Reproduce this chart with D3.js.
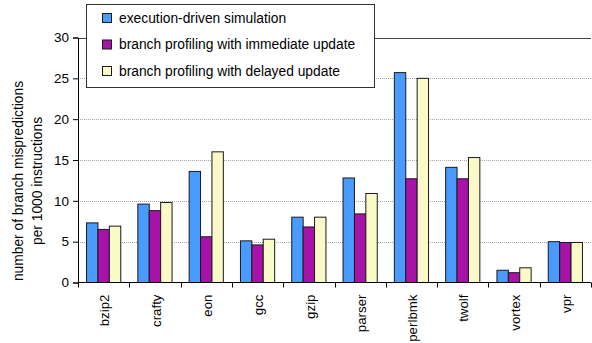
<!DOCTYPE html>
<html>
<head>
<meta charset="utf-8">
<script src="https://cdn.jsdelivr.net/npm/d3@7"></script>
<style>
  body { margin: 0; background: #fff; }
  svg { display: block; font-family: Arial, "Liberation Sans", sans-serif; }
</style>
</head>
<body>
<svg id="chart" width="592" height="343"></svg>
<script>
// Benchmarks on the x axis
const categories = ["bzip2", "crafty", "eon", "gcc", "gzip", "parser", "perlbmk", "twolf", "vortex", "vpr"];

// Branch mispredictions per 1000 instructions, one array per method
const executionDriven = [7.3, 9.6, 13.6, 5.1, 8.0, 12.8, 25.7, 14.1, 1.5, 5.0];
const immediateUpdate = [6.5, 8.8, 5.6, 4.6, 6.8, 8.4, 12.7, 12.7, 1.2, 4.9];
const delayedUpdate   = [6.9, 9.8, 16.0, 5.3, 8.0, 10.9, 25.0, 15.3, 1.8, 4.9];

const seriesNames = [
  "execution-driven simulation",
  "branch profiling with immediate update",
  "branch profiling with delayed update"
];
const seriesColors = ["#4a9bff", "#a912a9", "#fafac8"];
const yTicks = [0, 5, 10, 15, 20, 25, 30];

const seriesValues = [executionDriven, immediateUpdate, delayedUpdate];
const rows = categories.map((c, i) => ({
  name: c,
  values: seriesValues.map((arr, s) => ({ s, v: arr[i] }))
}));

const svg = d3.select("#chart");
const plotLeft = 78, plotRight = 591, plotTop = 37.5, plotBottom = 282.5;

const x0 = d3.scaleBand().domain(categories).range([plotLeft, plotRight]).padding(0);
const x1 = d3.scaleBand().domain(d3.range(seriesNames.length))
  .range([0, x0.bandwidth()]).paddingInner(0).paddingOuter(0.75);
const y = d3.scaleLinear().domain([0, 30]).range([plotBottom, plotTop]);

// horizontal gridlines
svg.append("g").selectAll("line")
  .data(yTicks.filter(t => t > 0 && t < 30))
  .join("line")
  .attr("x1", plotLeft).attr("x2", plotRight)
  .attr("y1", d => Math.round(y(d)) + 0.5).attr("y2", d => Math.round(y(d)) + 0.5)
  .attr("stroke", "#a8a8a8")
  .attr("stroke-dasharray", "1,1");

// top boundary of the plot area
svg.append("line")
  .attr("x1", plotLeft).attr("x2", plotRight)
  .attr("y1", Math.round(y(30)) + 0.5).attr("y2", Math.round(y(30)) + 0.5)
  .attr("stroke", "#444");

// bars
const groups = svg.append("g").selectAll("g")
  .data(rows)
  .join("g")
  .attr("transform", d => `translate(${x0(d.name)},0)`);

groups.selectAll("rect")
  .data(d => d.values)
  .join("rect")
  .attr("x", d => x1(d.s))
  .attr("y", d => y(d.v))
  .attr("width", x1.bandwidth())
  .attr("height", d => y(0) - y(d.v))
  .attr("fill", d => seriesColors[d.s])
  .attr("stroke", "#1a1a1a")
  .attr("stroke-width", 1);

// y axis
const yAxis = d3.axisLeft(y).tickValues(yTicks).tickSize(5).tickPadding(4);
const gy = svg.append("g")
  .attr("transform", `translate(${plotLeft},0)`)
  .call(yAxis);
gy.select(".domain").attr("stroke", "#000");
gy.selectAll(".tick line").attr("stroke", "#000");
gy.selectAll(".tick text").attr("font-size", 13.5).attr("fill", "#000")
  .attr("font-family", "Arial, 'Liberation Sans', sans-serif");

// x axis: baseline with ticks between benchmark groups
const gx = svg.append("g");
gx.append("line")
  .attr("x1", plotLeft).attr("x2", plotRight)
  .attr("y1", plotBottom).attr("y2", plotBottom)
  .attr("stroke", "#000");
gx.selectAll("line.sep")
  .data(categories.map(c => x0(c)).concat([plotRight]))
  .join("line")
  .attr("class", "sep")
  .attr("x1", d => Math.round(d) + 0.5).attr("x2", d => Math.round(d) + 0.5)
  .attr("y1", plotBottom).attr("y2", plotBottom + 5)
  .attr("stroke", "#000");

gx.selectAll("text")
  .data(categories)
  .join("text")
  .attr("transform", d => `translate(${x0(d) + x0.bandwidth() / 2 + 1},${plotBottom + 12}) rotate(-90)`)
  .attr("text-anchor", "end")
  .attr("dy", "0.35em")
  .attr("font-size", 13.3)
  .attr("fill", "#000")
  .text(d => d);

// y axis title (two lines)
const yt = svg.append("text")
  .attr("transform", `translate(0,181) rotate(-90)`)
  .attr("text-anchor", "middle")
  .attr("font-size", 13.8)
  .attr("fill", "#000");
yt.append("tspan").attr("x", 0).attr("y", 23).text("number of branch mispredictions");
yt.append("tspan").attr("x", 0).attr("y", 42).text("per 1000 instructions");

// legend
const lg = svg.append("g");
lg.append("rect")
  .attr("x", 86.5).attr("y", 4.5).attr("width", 288).attr("height", 83)
  .attr("fill", "#fff").attr("stroke", "#333");
const items = lg.selectAll("g.item")
  .data(seriesNames)
  .join("g")
  .attr("class", "item")
  .attr("transform", (d, i) => `translate(0,${18 + i * 26.5})`);
items.append("rect")
  .attr("x", 102.5).attr("y", -4.5).attr("width", 9).attr("height", 9)
  .attr("fill", (d, i) => seriesColors[i])
  .attr("stroke", "#1a1a1a");
items.append("text")
  .attr("x", 119).attr("y", 0).attr("dy", "0.35em")
  .attr("font-size", 13.8).attr("fill", "#000")
  .text(d => d);
</script>
</body>
</html>
